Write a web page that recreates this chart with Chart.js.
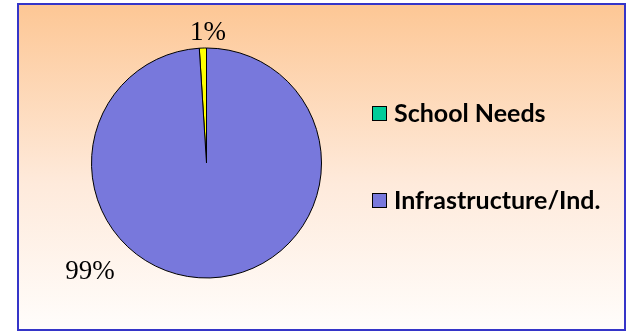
<!DOCTYPE html>
<html>
<head>
<meta charset="utf-8">
<script src="https://cdn.jsdelivr.net/npm/chart.js@4/dist/chart.umd.min.js"></script>
<style>
    html, body { margin: 0; padding: 0; background: #fff; }
    #frame {
        position: absolute;
        left: 17px;
        top: 3px;
        width: 605px;
        height: 324px;
        border: 2px solid #3535c8;
        background: linear-gradient(to bottom, #fdc795 0%, #feeadb 55%, #fffdfb 100%);
    }
    canvas { display: block; }
</style>
</head>
<body>
<div id="frame"><canvas id="pie" width="605" height="324"></canvas></div>
<script>
// Share of spending
const categories = ['School Needs', 'Infrastructure/Ind.'];
const shares = [1, 99];
const shareLabels = ['1%', '99%'];
const sliceColors = ['#ffff00', '#7878dc'];
const legendColors = ['#00cc99', '#7878dc'];

// Percent labels placed around the pie (angle clockwise from top, distance as radius multiple)
const percentLabels = {
    id: 'percentLabels',
    afterDatasetsDraw(chart) {
        const { ctx } = chart;
        const places = [{ angle: 0.7, dist: 1.134 }, { angle: 226.9, dist: 1.387 }];
        const arcs = chart.getDatasetMeta(0).data;
        ctx.save();
        ctx.font = '27px "Liberation Serif", "Times New Roman", serif';
        ctx.fillStyle = '#000';
        ctx.textAlign = 'center';
        ctx.textBaseline = 'middle';
        arcs.forEach((arc, i) => {
            const a = (places[i].angle - 90) * Math.PI / 180;
            const r = arc.outerRadius * places[i].dist;
            ctx.fillText(shareLabels[i], arc.x + Math.cos(a) * r, arc.y + Math.sin(a) * r);
        });
        ctx.restore();
    }
};

// Legend on the right with its own swatch colours
const sideLegend = {
    id: 'sideLegend',
    afterDraw(chart) {
        const { ctx } = chart;
        ctx.save();
        ctx.font = 'bold 25px Lato, "Open Sans", sans-serif';
        ctx.textBaseline = 'middle';
        categories.forEach((name, i) => {
            const y = 101 + i * 87;
            ctx.fillStyle = legendColors[i];
            ctx.fillRect(353.5, y + 0.5, 14, 14);
            ctx.strokeStyle = '#000';
            ctx.lineWidth = 1;
            ctx.strokeRect(353.5, y + 0.5, 14, 14);
            ctx.fillStyle = '#000';
            ctx.fillText(name, 375, y + 8);
        });
        ctx.restore();
    }
};

new Chart(document.getElementById('pie'), {
    type: 'pie',
    data: {
        labels: categories,
        datasets: [{
            data: shares,
            backgroundColor: sliceColors,
            borderColor: '#000',
            borderWidth: 1
        }]
    },
    options: {
        responsive: false,
        animation: false,
        rotation: -3.6,
        layout: { padding: { top: 42.5, bottom: 50.5, left: 72, right: 302 } },
        plugins: {
            legend: { display: false },
            tooltip: { enabled: false }
        }
    },
    plugins: [percentLabels, sideLegend]
});
</script>
</body>
</html>
